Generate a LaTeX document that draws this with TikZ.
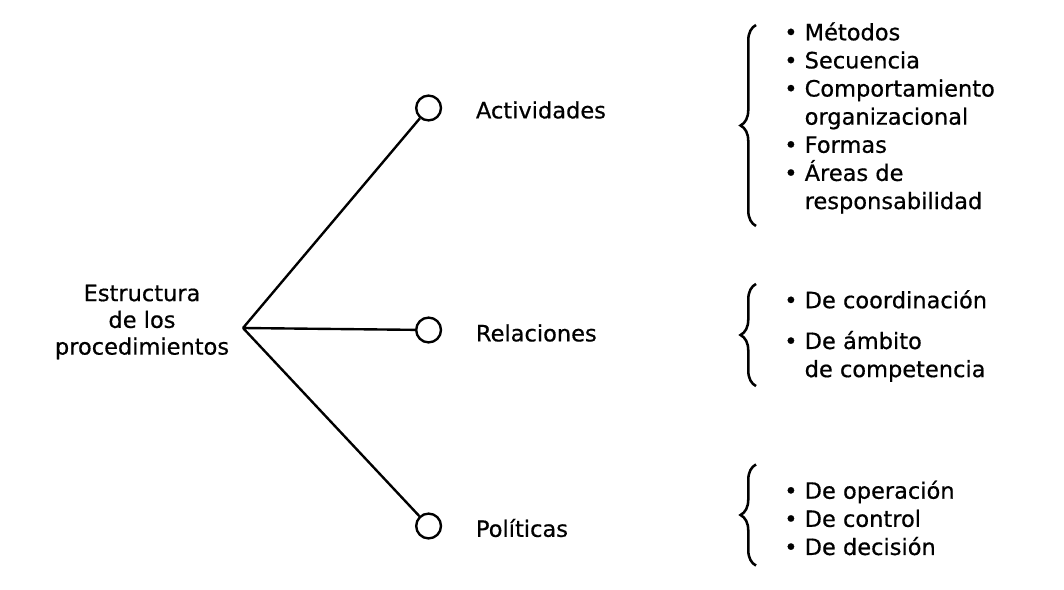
\documentclass[tikz,border=0pt]{standalone}
\usepackage{fontspec}
\setmainfont[FakeBold=0.6]{DejaVu Sans}
\usetikzlibrary{decorations.pathreplacing}

\begin{document}
\begin{tikzpicture}[x=0.025cm, y=-0.025cm,
    every node/.style={font=\fontsize{16}{20}\selectfont},
    hub/.style={circle, draw, line width=1.7pt, minimum size=0.62cm, inner sep=0pt},
    listbox/.style={align=left, anchor=west, inner sep=0pt},
    curly/.style={decorate, decoration={brace, amplitude=11pt}, line width=1.8pt}]
\useasboundingbox (0,0) rectangle (1064,590);

\node[align=center, font=\fontsize{16}{19}\selectfont] (root) at (142,322)
    {Estructura\\de los\\procedimientos};
\coordinate (v) at (243,328);

\begin{scope}[every node/.append style={anchor=west}]
    \node[hub] (c1) at (415,108) {};
    \node[hub] (c2) at (415,330) {};
    \node[hub] (c3) at (415,526) {};
    \node (a1) at (471,110) {Actividades};
    \node (a2) at (471,333) {Relaciones};
    \node (a3) at (471,528) {Políticas};
\end{scope}

\path[draw, line width=1.7pt] (v) -- (c1) (v) -- (c2) (v) -- (c3);

% listas
\node[listbox] (l1) at (784,118) {• Métodos\\• Secuencia\\• Comportamiento\\
    \phantom{• }organizacional\\• Formas\\• Áreas de\\\phantom{• }responsabilidad};
\node[listbox] (l2) at (784,336) {• De coordinación\\[9pt]• De ámbito\\
    \phantom{• }de competencia};
\node[listbox] (l3) at (784,518) {• De operación\\• De control\\• De decisión};

\draw[curly] ([shift={(-28,12)}]l1.south west) -- ([shift={(-28,3)}]l1.north west);
\draw[curly] ([shift={(-28,4)}]l2.south west) -- ([shift={(-28,-6)}]l2.north west);
\draw[curly] ([shift={(-28,10)}]l3.south west) -- ([shift={(-28,-16)}]l3.north west);
\end{tikzpicture}
\end{document}
